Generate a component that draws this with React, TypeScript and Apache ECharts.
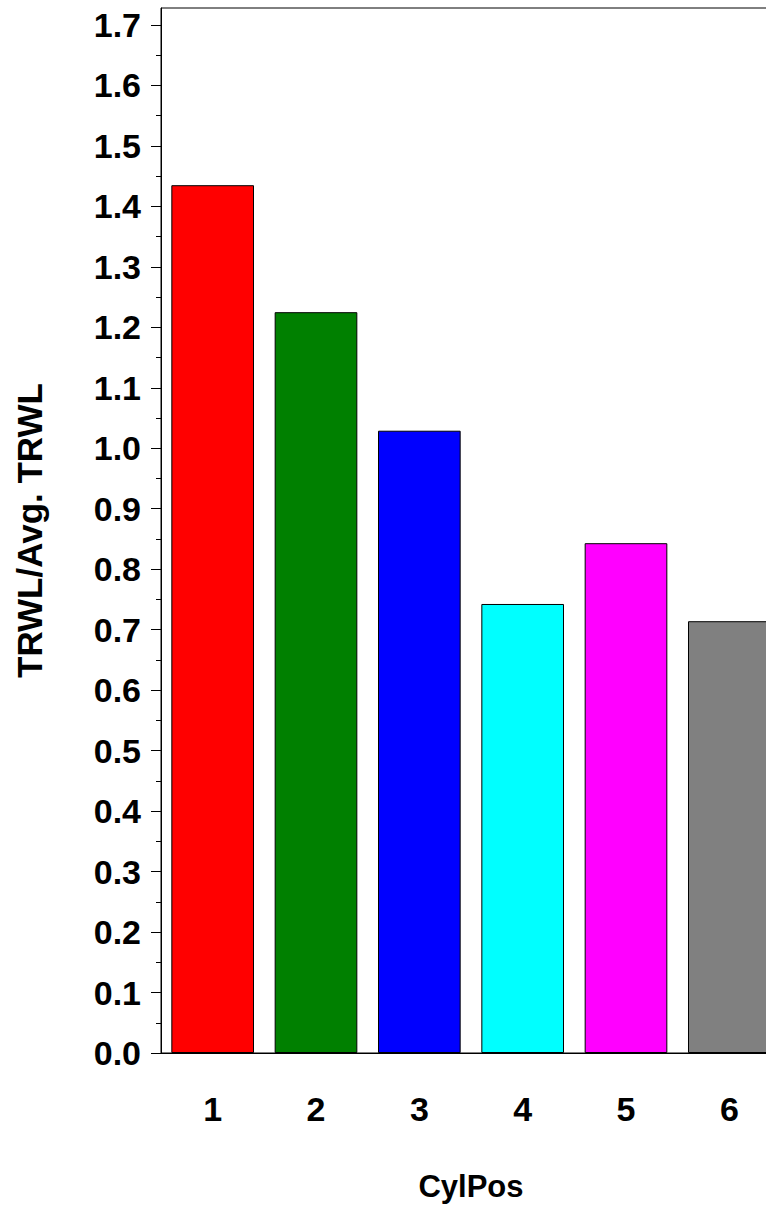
import React, { useEffect, useRef } from "react";
import * as echarts from "echarts";

const categories = ["1", "2", "3", "4", "5", "6"];
const values = [1.435, 1.225, 1.029, 0.7425, 0.843, 0.714];
const barColors = ["#FF0000", "#008000", "#0000FF", "#00FFFF", "#FF00FF", "#808080"];
const yTicks = [0, 0.1, 0.2, 0.3, 0.4, 0.5, 0.6, 0.7, 0.8, 0.9, 1.0, 1.1, 1.2, 1.3, 1.4, 1.5, 1.6, 1.7];
const yMinorTicks = [0.05, 0.15, 0.25, 0.35, 0.45, 0.55, 0.65, 0.75, 0.85, 0.95, 1.05, 1.15, 1.25, 1.35, 1.45, 1.55, 1.65];
const yMax = 1.728;

const FONT = "'Liberation Sans', Arial, Helvetica, sans-serif";

export default function App() {
  const ref = useRef<HTMLDivElement>(null);
  useEffect(() => {
    const chart = echarts.init(ref.current!, undefined, { renderer: "svg" });
    chart.setOption({
      animation: false,
      grid: {
        left: 161,
        top: 8,
        right: -15,
        bottom: 158,
        show: true,
        borderColor: "#000",
        borderWidth: 1,
        containLabel: false,
        outerBoundsMode: "none",
      },
      xAxis: {
        type: "category",
        data: categories,
        name: "CylPos",
        nameLocation: "middle",
        nameGap: 118,
        nameTextStyle: { fontFamily: FONT, fontWeight: "bold", fontSize: 31, color: "#000" },
        axisLine: { lineStyle: { color: "#000", width: 1 } },
        axisTick: { show: false },
        axisLabel: { margin: 39, fontFamily: FONT, fontWeight: "bold", fontSize: 34, color: "#000" },
      },
      yAxis: [
        {
          type: "value",
          min: 0,
          max: yMax,
          interval: 0.1,
          name: "TRWL/Avg. TRWL",
          nameLocation: "middle",
          nameGap: 114,
          nameTextStyle: { fontFamily: FONT, fontWeight: "bold", fontSize: 35, color: "#000" },
          splitLine: { show: false },
          axisLine: { show: true, lineStyle: { color: "#000", width: 1 } },
          axisTick: { show: true, length: 10, lineStyle: { color: "#000" }, customValues: yTicks },
          axisLabel: {
            margin: 20,
            fontFamily: FONT,
            fontWeight: "bold",
            fontSize: 34,
            color: "#000",
            customValues: yTicks,
            formatter: (v: number) => v.toFixed(1),
          },
        },
        {
          type: "value",
          min: 0,
          max: yMax,
          position: "left",
          splitLine: { show: false },
          axisLine: { show: false },
          axisTick: { show: true, length: 5, lineStyle: { color: "#000" }, customValues: yMinorTicks },
          axisLabel: { show: false },
        },
      ],
      series: [
        {
          type: "bar",
          yAxisIndex: 0,
          barCategoryGap: "20%",
          data: values.map((v, i) => ({
            value: v,
            itemStyle: { color: barColors[i], borderColor: "#000", borderWidth: 1 },
          })),
        },
      ],
    });
    return () => chart.dispose();
  }, []);
  return (
    <div
      ref={ref}
      style={{ position: "absolute", left: 0, top: 0, width: 766, height: 1211, overflow: "hidden", background: "#fff" }}
    />
  );
}
